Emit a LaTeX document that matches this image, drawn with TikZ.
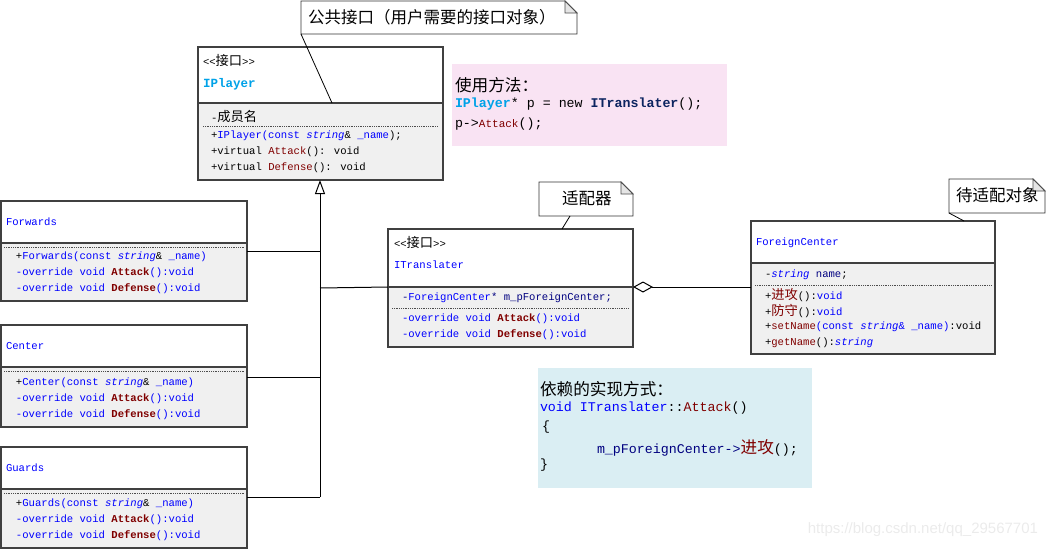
\documentclass[tikz,border=0pt]{standalone}
\usepackage{fontspec}
\usetikzlibrary{arrows.meta}
\newfontfamily\mono{Liberation Mono}
\newfontfamily\cjk[Scale=1.25]{Noto Sans CJK SC}
\newfontfamily\cjkn{Noto Sans CJK SC}
\newfontfamily\wsans{Liberation Sans}
\definecolor{cblue}{HTML}{0000FF}
\definecolor{cred}{HTML}{800000}
\definecolor{cnavy}{HTML}{000080}
\definecolor{ccyan}{HTML}{00A2E8}
\definecolor{cdnavy}{HTML}{0C2460}
\definecolor{bodyc}{HTML}{F0F0F0}
\definecolor{boxc}{HTML}{404040}
\definecolor{pinkc}{HTML}{F9E3F3}
\definecolor{lbluec}{HTML}{DAEEF3}
\newcommand\Cb[1]{\textcolor{cblue}{#1}}
\newcommand\Cr[1]{\textcolor{cred}{#1}}
\newcommand\Cn[1]{\textcolor{cnavy}{#1}}
\newcommand\Cs{\textcolor{cblue}{\itshape string}}
\newcommand\zh[1]{{\cjk #1}}
\newcommand\drawnote[1]{%
  \draw[notestyle] (#1.north west) -- ([xshift=-12pt]#1.north east) -- ([yshift=-12pt]#1.north east) -- (#1.south east) -- (#1.south west) -- cycle;
  \draw[black!70, fill=black!10, line width=0.8pt] ([xshift=-12pt]#1.north east) -- ([xshift=-12pt,yshift=-12pt]#1.north east) -- ([yshift=-12pt]#1.north east) -- cycle;}
\begin{document}
\begin{tikzpicture}[x=1pt,y=-1pt,
  every node/.style={inner sep=0pt, outer sep=0pt},
  cls/.style={font=\mono\fontsize{10.6}{12}\selectfont, anchor=west},
  hdr/.style={draw=boxc, fill=white, line width=1.2pt, anchor=north west},
  bdy/.style={draw=boxc, fill=bodyc, line width=1.2pt, anchor=north west},
  dline/.style={black!70, densely dotted, line width=0.8pt},
  notestyle/.style={draw=black!80, fill=white, line width=0.9pt},
  notearea/.style={anchor=north west},
  notetxt/.style={font=\cjkn\fontsize{16.5}{18}\selectfont, anchor=west},
  link/.style={draw=black, line width=1pt},
  codetxt/.style={font=\mono\fontsize{13.3}{15}\selectfont, anchor=west}]
\useasboundingbox (0,0) rectangle (1046,549);

% ---------- IPlayer ----------
\node[hdr, minimum width=245pt, minimum height=56pt] (ipH) at (198,47) {};
\node[bdy, minimum width=245pt, minimum height=77pt] (ipB) at (198,103) {};
\draw[dline] (203,126) -- (438,126);
\node[cls] (ipS) at (203,60) {<<\zh{接口}>>};
\node[cls, font=\mono\bfseries\fontsize{12.5}{14}\selectfont] (ipN) at (203,84) {\textcolor{ccyan}{IPlayer}};
\node[cls] (ip1) at (211,116) {-\zh{成员名}};
\node[cls] (ip2) at (211,136) {+\Cb{IPlayer(const }\Cs\& \Cb{\_name});};
\node[cls] (ip3) at (211,152) {+virtual \Cr{Attack}(): void};
\node[cls] (ip4) at (211,168) {+virtual \Cr{Defense}(): void};

% ---------- note: public interface ----------
\node[notearea, minimum width=276pt, minimum height=33pt] (n1) at (301,1) {};
\drawnote{n1}
\node[notetxt] (n1t) at (308,17) {公共接口（用户需要的接口对象）};
\coordinate (n1c) at (332,103);
\draw[link, line width=0.8pt] (n1.south west) -- (n1c);

% ---------- usage box ----------
\node[anchor=north west, fill=pinkc, minimum width=275pt, minimum height=82pt] (pk) at (452,64) {};
\node[codetxt] (pk1) at (455,85) {\zh{使用方法：}};
\node[codetxt] (pk2) at (455,104) {\textcolor{ccyan}{\bfseries IPlayer}* p = new \textcolor{cdnavy}{\bfseries ITranslater}();};
\node[codetxt] (pk3) at (455,124) {p->{\fontsize{11}{13}\selectfont\Cr{Attack}}();};

% ---------- Forwards ----------
\node[hdr, minimum width=246pt, minimum height=42pt] (fwH) at (1,201) {};
\node[bdy, minimum width=246pt, minimum height=58pt] (fwB) at (1,243) {};
\draw[dline] (4,247) -- (244,247);
\node[cls] (fwN) at (6,222) {\Cb{Forwards}};
\node[cls] (fw1) at (16,257) {+\Cb{Forwards(const }\Cs\& \Cb{\_name)}};
\node[cls] (fw2) at (16,273) {\Cb{-override void }\Cr{\bfseries Attack}\Cb{():void}};
\node[cls] (fw3) at (16,289) {\Cb{-override void }\Cr{\bfseries Defense}\Cb{():void}};

% ---------- Center ----------
\node[hdr, minimum width=246pt, minimum height=42pt] (ceH) at (1,325) {};
\node[bdy, minimum width=246pt, minimum height=60pt] (ceB) at (1,367) {};
\draw[dline] (4,371) -- (244,371);
\node[cls] (ceN) at (6,346) {\Cb{Center}};
\node[cls] (ce1) at (16,383) {+\Cb{Center(const }\Cs\& \Cb{\_name)}};
\node[cls] (ce2) at (16,399) {\Cb{-override void }\Cr{\bfseries Attack}\Cb{():void}};
\node[cls] (ce3) at (16,415) {\Cb{-override void }\Cr{\bfseries Defense}\Cb{():void}};

% ---------- Guards ----------
\node[hdr, minimum width=246pt, minimum height=42pt] (guH) at (1,447) {};
\node[bdy, minimum width=246pt, minimum height=59pt] (guB) at (1,489) {};
\draw[dline] (4,493) -- (244,493);
\node[cls] (guN) at (6,468) {\Cb{Guards}};
\node[cls] (gu1) at (16,504) {+\Cb{Guards(const }\Cs\& \Cb{\_name)}};
\node[cls] (gu2) at (16,520) {\Cb{-override void }\Cr{\bfseries Attack}\Cb{():void}};
\node[cls] (gu3) at (16,536) {\Cb{-override void }\Cr{\bfseries Defense}\Cb{():void}};

% ---------- ITranslater ----------
\node[hdr, minimum width=245pt, minimum height=58pt] (itH) at (388,229) {};
\node[bdy, minimum width=245pt, minimum height=60pt] (itB) at (388,287) {};
\draw[dline] (392,308) -- (629,308);
\node[cls] (itS) at (394,242) {<<\zh{接口}>>};
\node[cls] (itN) at (394,265) {\Cb{ITranslater}};
\node[cls] (it1) at (402,298) {\Cn{-}\Cb{ForeignCenter}\Cn{* m\_pForeignCenter;}};
\node[cls] (it2) at (402,319) {\Cb{-override void }\Cr{\bfseries Attack}\Cb{():void}};
\node[cls] (it3) at (402,335) {\Cb{-override void }\Cr{\bfseries Defense}\Cb{():void}};

% ---------- note: adapter ----------
\node[notearea, minimum width=94pt, minimum height=34pt] (n2) at (539,182) {};
\drawnote{n2}
\node[notetxt] (n2t) at (562,198) {适配器};
\coordinate (n2a) at (570,216);
\coordinate (n2b) at (562,229);
\draw[link, line width=0.8pt] (n2a) -- (n2b);

% ---------- ForeignCenter ----------
\node[hdr, minimum width=244pt, minimum height=42pt] (fcH) at (751,221) {};
\node[bdy, minimum width=244pt, minimum height=91pt] (fcB) at (751,263) {};
\draw[dline] (755,285) -- (991,285);
\node[cls] (fcN) at (756,243) {\Cb{ForeignCenter}};
\node[cls] (fc1) at (765,275) {-\Cs\ \Cn{name};};
\node[cls] (fc2) at (765,295) {+\Cr{\zh{进攻}}():\Cb{void}};
\node[cls] (fc3) at (765,311) {+\Cr{\zh{防守}}():\Cb{void}};
\node[cls] (fc4) at (765,327) {+\Cr{setName}\Cb{(const }\Cs\Cb{\& \_name)}:void};
\node[cls] (fc5) at (765,343) {+\Cr{getName}():\Cs};

% ---------- note: adaptee ----------
\node[notearea, minimum width=96pt, minimum height=34pt] (n3) at (949,179) {};
\drawnote{n3}
\node[notetxt] (n3t) at (956,195) {待适配对象};
\coordinate (n3c) at (964,221);
\draw[link, line width=0.8pt] (n3.south west) -- (n3c);

% ---------- implementation box ----------
\node[anchor=north west, fill=lbluec, minimum width=274pt, minimum height=120pt] (bl) at (538,368) {};
\node[codetxt] (bl1) at (540,389) {\zh{依赖的实现方式：}};
\node[codetxt] (bl2) at (540,408) {\Cb{void ITranslater}::\Cr{Attack}()};
\node[codetxt] (bl3) at (542,427) {\{};
\node[codetxt] (bl4) at (597,448) {\Cn{m\_pForeignCenter->}\Cr{\zh{进攻}}();};
\node[codetxt] (bl5) at (540,465) {\}};

% ---------- inheritance ----------
\coordinate (tF) at (320,251);
\coordinate (tT) at (320,288);
\coordinate (tC) at (320,377);
\coordinate (tG) at (320,497);
\draw[link] ([yshift=-8pt]fwB.north east) -- (tF);
\draw[link] ([yshift=-10pt]ceB.north east) -- (tC);
\draw[link] ([yshift=-8pt]guB.north east) -- (tG);
\draw[link] (itB.north west) -- (tT);
\draw[link, -{Triangle[open, width=10pt, length=14pt, line width=1pt]}] (tG) -- (ipB.south -| tG);

% ---------- aggregation ----------
\draw[link, {Diamond[open, width=11pt, length=20pt, line width=1pt]}-] (itB.north east) -- (fcB.west |- itB.north east);

% ---------- watermark ----------
\node[anchor=east, font=\wsans\fontsize{15}{17}\selectfont, text=black!8] (wm) at (1038,530) {https://blog.csdn.net/qq\_29567701};
\end{tikzpicture}
\end{document}
